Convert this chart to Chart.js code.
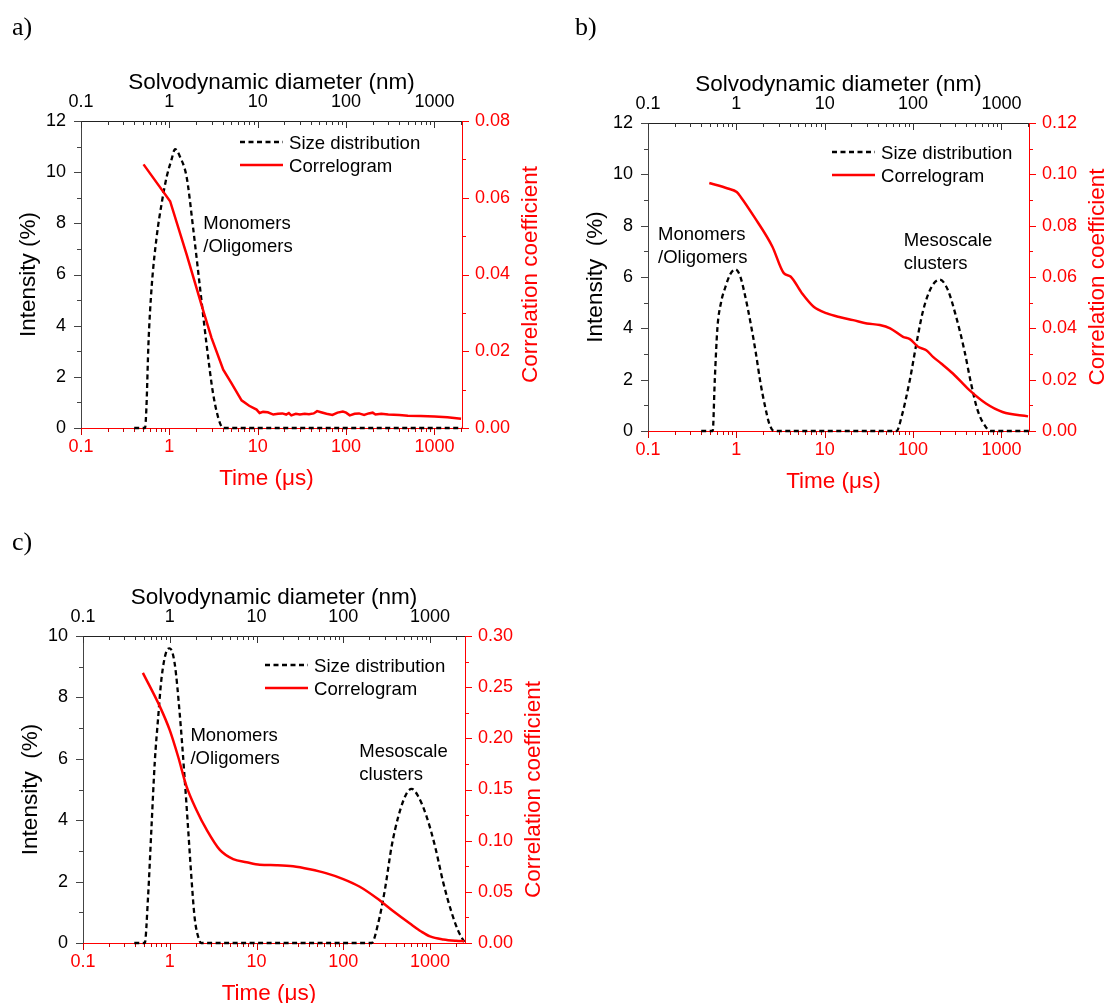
<!DOCTYPE html>
<html>
<head>
<meta charset="utf-8">
<script src="https://cdn.jsdelivr.net/npm/chart.js@4.4.0/dist/chart.umd.min.js"></script>
<style>
  body { margin: 0; background: #fff; width: 1105px; height: 1003px; position: relative; overflow: hidden; }
  canvas { position: absolute; }
</style>
</head>
<body>
<canvas id="panelA" width="552" height="500" style="left:0;top:0"></canvas>
<canvas id="panelB" width="553" height="500" style="left:552px;top:0"></canvas>
<canvas id="panelC" width="552" height="503" style="left:0;top:500px"></canvas>
<script>
const SANS = '"Liberation Sans", Arial, sans-serif';
const SERIF = '"Liberation Serif", "Times New Roman", serif';
const RED = '#ff0000';

// shared log axis labels (time in µs at the bottom, diameter in nm on top)
const decadeLabels = ['0.1', '1', '10', '100', '1000'];

// a) ------------------------------------------------------------
const sizeDiamA = [0.40, 0.53, 0.55, 0.58, 0.63, 0.72, 0.82, 0.93, 1.06, 1.16, 1.32, 1.57, 1.86, 2.22, 2.63, 3.14, 3.73, 4.1, 2050];
const sizeIntA  = [0, 0, 0.8, 3.3, 5.5, 7.5, 8.8, 9.8, 10.5, 10.9, 10.6, 9.8, 7.8, 5.5, 3.3, 1.3, 0.2, 0, 0];
const corrTimeA = [0.51, 1.02, 1.57, 2.42, 3.0, 4.07, 5.0, 6.56, 8.0, 9.7, 10.5, 11.5, 13, 15, 17, 19, 21, 22.5, 24, 27, 30, 34, 38, 43, 47, 52, 60, 70, 80, 92, 100, 110, 125, 140, 160, 180, 200, 215, 250, 300, 400, 500, 700, 1000, 1400, 2000];
const corrCoefA = [0.0687, 0.0591, 0.0452, 0.0305, 0.0235, 0.0152, 0.0118, 0.0072, 0.0058, 0.0048, 0.0039, 0.0042, 0.0041, 0.0035, 0.0037, 0.0038, 0.0035, 0.0039, 0.0033, 0.0037, 0.0035, 0.0037, 0.0036, 0.0038, 0.0044, 0.0041, 0.0037, 0.0034, 0.0040, 0.0043, 0.0040, 0.0033, 0.0037, 0.0038, 0.0034, 0.0038, 0.0040, 0.0035, 0.0037, 0.0035, 0.0034, 0.0032, 0.0031, 0.0030, 0.0028, 0.0024];
const intLabelsA  = ['0', '2', '4', '6', '8', '10', '12'];
const coefLabelsA = ['0.00', '0.02', '0.04', '0.06', '0.08'];

// b) ------------------------------------------------------------
const sizeDiamB = [0.40, 0.54, 0.57, 0.61, 0.67, 0.75, 0.85, 0.97, 1.1, 1.25, 1.45, 1.65, 1.88, 2.1, 2.35, 2.66, 65, 74, 92, 109, 130, 161, 200, 247, 307, 380, 453, 538, 667, 760, 2050];
const sizeIntB  = [0, 0, 2.0, 4.0, 5.0, 5.6, 6.1, 6.3, 6.05, 5.3, 4.2, 3.1, 1.85, 1.0, 0.3, 0, 0, 0.55, 2.0, 3.4, 4.7, 5.6, 5.9, 5.5, 4.45, 3.15, 1.85, 0.8, 0.15, 0, 0];
const corrTimeB = [0.494, 0.8, 1.01, 1.12, 1.58, 2.55, 3.44, 4.1, 5.54, 7.5, 10.6, 15, 21, 30, 42, 55, 77, 92, 114, 141, 168, 208, 282, 434, 668, 1028, 2000];
const corrCoefB = [0.0966, 0.0945, 0.0931, 0.0912, 0.0836, 0.0719, 0.0615, 0.0602, 0.0536, 0.0484, 0.0458, 0.0443, 0.0432, 0.0419, 0.0413, 0.0400, 0.0367, 0.0358, 0.0328, 0.0315, 0.0289, 0.0263, 0.0224, 0.0159, 0.0107, 0.0074, 0.0057];
const intLabelsB  = ['0', '2', '4', '6', '8', '10', '12'];
const coefLabelsB = ['0.00', '0.02', '0.04', '0.06', '0.08', '0.10', '0.12'];

// c) ------------------------------------------------------------
const sizeDiamC = [0.39, 0.515, 0.562, 0.614, 0.672, 0.733, 0.802, 0.916, 1.0, 1.14, 1.30, 1.49, 1.63, 1.78, 1.94, 2.22, 2.3, 212, 253, 302, 361, 431, 538, 614, 733, 913, 1142, 1426, 1779, 2125, 2530];
const sizeIntC  = [0, 0, 1.5, 3.7, 5.9, 7.3, 8.6, 9.5, 9.6, 9.1, 7.5, 5.3, 3.7, 2.1, 0.8, 0.05, 0, 0, 0.65, 1.74, 3.15, 4.12, 4.88, 5.02, 4.77, 4.12, 3.15, 1.95, 0.98, 0.38, 0];
const corrTimeC = [0.49, 0.77, 1.0, 1.25, 1.56, 2.03, 2.65, 3.78, 5.38, 7.67, 10.9, 17, 26.4, 41.2, 64.4, 100, 155, 242, 378, 587, 800, 1000, 1426, 2000, 2480];
const corrCoefC = [0.264, 0.231, 0.208, 0.182, 0.153, 0.130, 0.111, 0.091, 0.082, 0.079, 0.0765, 0.076, 0.075, 0.072, 0.068, 0.0625, 0.055, 0.044, 0.031, 0.019, 0.011, 0.0065, 0.0035, 0.0022, 0.0018];
const intLabelsC  = ['0', '2', '4', '6', '8', '10'];
const coefLabelsC = ['0.00', '0.05', '0.10', '0.15', '0.20', '0.25', '0.30'];

Chart.defaults.font.family = SANS;

function zip(xs, ys) {
    return xs.map((x, i) => ({ x, y: ys[i] }));
}

// 1..9 x each decade, up to the axis end
function logTicks(max) {
    const out = [];
    for (let e = -1; e <= 3; e++) {
        for (let m = 1; m <= 9; m++) {
            const v = m * Math.pow(10, e);
            if (v <= max * 1.0001) out.push({ value: v });
        }
    }
    return out;
}

function decadeLabel(v) {
    return decadeLabels.find(l => Math.abs(Math.log10(Number(l)) - Math.log10(v)) < 1e-6) || '';
}

// labelled ticks plus one minor tick half way between them
function linTicks(labels) {
    const vals = labels.map(Number);
    const out = [];
    vals.forEach((v, i) => {
        out.push({ value: v });
        if (i < vals.length - 1) out.push({ value: (v + vals[i + 1]) / 2 });
    });
    return out;
}

function labelFor(labels, v) {
    return labels.find(l => Math.abs(Number(l) - v) < 1e-9) || '';
}

function drawTickMarks(ctx, scale, horizontal, base, dir, color) {
    ctx.strokeStyle = color;
    ctx.lineWidth = 1;
    ctx.beginPath();
    scale.ticks.forEach(t => {
        const p = Math.round(scale.getPixelForValue(t.value)) + 0.5;
        const len = t.label ? 7 : 4;
        if (horizontal) {
            ctx.moveTo(p, base);
            ctx.lineTo(p, base + dir * len);
        } else {
            ctx.moveTo(base, p);
            ctx.lineTo(base + dir * len, p);
        }
    });
    ctx.stroke();
}

function vText(ctx, text, cx, cy, color) {
    ctx.save();
    ctx.translate(cx, cy);
    ctx.rotate(-Math.PI / 2);
    ctx.fillStyle = color;
    ctx.textAlign = 'center';
    ctx.textBaseline = 'alphabetic';
    ctx.fillText(text, 0, 8);
    ctx.restore();
}

function makeDecor(p) {
    return {
        id: 'decor',
        beforeDatasetsDraw(chart) {
            const { ctx, chartArea: a, scales } = chart;
            ctx.save();
            drawTickMarks(ctx, scales.x, true, a.bottom, 1, '#cc0000');
            drawTickMarks(ctx, scales.x2, true, a.top, 1, '#333');
            drawTickMarks(ctx, scales.y, false, a.left, -1, '#444');
            drawTickMarks(ctx, scales.y2, false, a.right, 1, RED);
            ctx.restore();
        },
        afterDraw(chart) {
            const { ctx, chartArea: a, scales } = chart;
            const cx = (a.left + a.right) / 2;
            const cy = (a.top + a.bottom) / 2;
            ctx.save();
            ctx.textBaseline = 'alphabetic';

            ctx.font = `26px ${SERIF}`;
            ctx.fillStyle = '#000';
            ctx.textAlign = 'left';
            ctx.fillText(p.letter, p.letterX, p.letterY);

            ctx.font = `22.5px ${SANS}`;
            ctx.textAlign = 'center';
            ctx.fillText('Solvodynamic diameter (nm)', cx, a.top - 32);
            ctx.fillStyle = RED;
            ctx.fillText('Time (\u03bcs)', cx - 5, a.bottom + 57);
            vText(ctx, p.yTitle, a.left - 54, cy, '#000');
            vText(ctx, 'Correlation coefficient', a.right + 67, cy, RED);

            // legend
            ctx.font = `18.6px ${SANS}`;
            ctx.textAlign = 'left';
            const lx = a.right - p.legendDx;
            [1, 0].forEach((di, row) => {
                const ds = chart.data.datasets[di];
                const ly = a.top + p.legendDy + row * 23;
                ctx.beginPath();
                ctx.setLineDash(ds.borderDash || []);
                ctx.strokeStyle = ds.borderColor;
                ctx.lineWidth = ds.borderWidth;
                ctx.moveTo(lx, ly);
                ctx.lineTo(lx + 43, ly);
                ctx.stroke();
                ctx.setLineDash([]);
                ctx.fillStyle = '#000';
                ctx.fillText(ds.label, lx + 49, ly + 6.5);
            });

            // peak annotations, anchored in data coordinates
            ctx.font = `18.5px ${SANS}`;
            p.notes.forEach(n => {
                const x = scales.x.getPixelForValue(n.x);
                const y = scales.y.getPixelForValue(n.y);
                n.lines.forEach((t, i) => ctx.fillText(t, x, y + 6.5 + i * 23));
            });
            ctx.restore();
        }
    };
}

function buildPanel(id, p) {
    const font = { family: SANS, size: 18 };
    const logAxis = (position, color, borderColor, fitHeight) => ({
        type: 'logarithmic',
        position,
        min: 0.1,
        max: p.xMax,
        afterBuildTicks: s => { s.ticks = logTicks(p.xMax); },
        afterFit: s => { s.height = fitHeight; },
        grid: { display: false, drawTicks: false },
        border: { display: true, color: borderColor, width: 1 },
        ticks: {
            color, font, padding: 8, autoSkip: false, maxRotation: 0, minRotation: 0,
            callback: v => decadeLabel(v)
        }
    });
    const linAxis = (position, labels, color, borderColor, fitWidth, padding) => ({
        type: 'linear',
        position,
        min: 0,
        max: Number(labels[labels.length - 1]),
        afterBuildTicks: s => { s.ticks = linTicks(labels); },
        afterFit: s => { s.width = fitWidth; },
        grid: { display: false, drawTicks: false },
        border: { display: true, color: borderColor, width: 1 },
        ticks: { color, font, padding, autoSkip: false, callback: v => labelFor(labels, v) }
    });

    const ctx = document.getElementById(id).getContext('2d');
    return new Chart(ctx, {
        type: 'line',
        data: {
            datasets: [{
                label: 'Correlogram',
                data: zip(p.corrTime, p.corr),
                xAxisID: 'x',
                yAxisID: 'y2',
                borderColor: RED,
                borderWidth: 2.5,
                pointRadius: 0,
                tension: 0,
                cubicInterpolationMode: p.corrSmooth ? 'monotone' : 'default',
                clip: 4
            }, {
                label: 'Size distribution',
                data: zip(p.sizeDiam, p.size),
                xAxisID: 'x2',
                yAxisID: 'y',
                borderColor: '#000',
                borderWidth: 2.3,
                borderDash: [5, 3.5],
                pointRadius: 0,
                cubicInterpolationMode: 'monotone',
                clip: 4
            }]
        },
        options: {
            responsive: false,
            animation: false,
            devicePixelRatio: 1,
            events: [],
            layout: { padding: 0 },
            plugins: {
                legend: { display: false },
                tooltip: { enabled: false }
            },
            scales: {
                x: logAxis('bottom', RED, RED, p.h - p.plot.bottom),
                x2: logAxis('top', '#000', '#222', p.plot.top),
                y: linAxis('left', p.intLabels, '#000', '#444', p.plot.left, 15),
                y2: linAxis('right', p.coefLabels, RED, RED, p.w - p.plot.right, 13)
            }
        },
        plugins: [makeDecor(p)]
    });
}

buildPanel('panelA', {
    w: 552, h: 500, plot: { left: 81, right: 462, top: 121, bottom: 428 }, xMax: 2050,
    sizeDiam: sizeDiamA, size: sizeIntA, corrTime: corrTimeA, corr: corrCoefA, corrSmooth: false,
    intLabels: intLabelsA, coefLabels: coefLabelsA,
    letter: 'a)', letterX: 12, letterY: 35, yTitle: 'Intensity (%)',
    legendDx: 222, legendDy: 21,
    notes: [{ x: 2.42, y: 8.03, lines: ['Monomers', '/Oligomers'] }]
});

buildPanel('panelB', {
    w: 553, h: 500, plot: { left: 96, right: 477, top: 123, bottom: 431 }, xMax: 2050,
    sizeDiam: sizeDiamB, size: sizeIntB, corrTime: corrTimeB, corr: corrCoefB, corrSmooth: true,
    intLabels: intLabelsB, coefLabels: coefLabelsB,
    letter: 'b)', letterX: 23, letterY: 35, yTitle: 'Intensity  (%)',
    legendDx: 197, legendDy: 29,
    notes: [
        { x: 0.13, y: 7.68, lines: ['Monomers', '/Oligomers'] },
        { x: 78.5, y: 7.45, lines: ['Mesoscale', 'clusters'] }
    ]
});

buildPanel('panelC', {
    w: 552, h: 503, plot: { left: 83, right: 465, top: 136, bottom: 443 }, xMax: 2530,
    sizeDiam: sizeDiamC, size: sizeIntC, corrTime: corrTimeC, corr: corrCoefC, corrSmooth: true,
    intLabels: intLabelsC, coefLabels: coefLabelsC,
    letter: 'c)', letterX: 12, letterY: 50, yTitle: 'Intensity  (%)',
    legendDx: 200, legendDy: 29,
    notes: [
        { x: 1.73, y: 6.78, lines: ['Monomers', '/Oligomers'] },
        { x: 153, y: 6.27, lines: ['Mesoscale', 'clusters'] }
    ]
});
</script>
</body>
</html>
